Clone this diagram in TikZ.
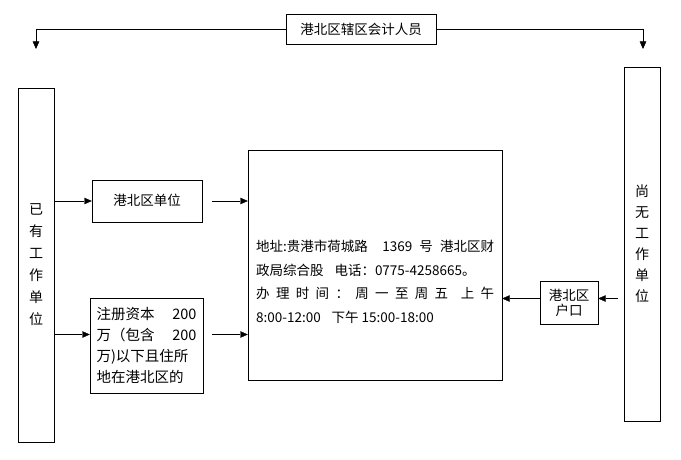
\documentclass[tikz,border=0pt]{standalone}
\usepackage{fontspec}
\setmainfont{Noto Sans CJK SC}
\usetikzlibrary{positioning,arrows.meta}
\tikzset{
  cnfont/.style={font=\fontsize{13.5}{21}\selectfont}
}

\begin{document}
\begin{tikzpicture}[
      x=1pt,y=-1pt,cnfont,
      box/.style={draw=black,thin,inner sep=2pt,align=center},
      tallbox/.style={box,minimum width=36pt,minimum height=354pt},
      arr/.style={-{Triangle[length=7.5pt,width=6.5pt]},thin,black}]
    \useasboundingbox (0,0) rectangle (681,460);
    % boxes
    \node[box,minimum width=150pt,minimum height=30pt] (acct) at (361,29) {港北区辖区会计人员};
    \node[tallbox,font=\fontsize{14}{22}\selectfont] (have) at (36,265) {已\\有\\工\\作\\单\\位};
    \node[tallbox,font=\fontsize{14}{21}\selectfont] (none) at (642,244) {尚\\无\\工\\作\\单\\位};
    \node[box,minimum width=110pt,minimum height=42pt] (unit) at (147,201) {\raisebox{3pt}{港北区单位}};
    \node[box,minimum width=113pt,minimum height=95pt,align=left,
          font=\fontsize{14.5}{21}\selectfont] (small) at (146.5,345.5)
      {\hbox to 100pt{注册资本\hfill 200}\\\hbox to 100pt{万（包含\hfill 200}\\万)以下且住所\\地在港北区的};
    \node[box,minimum width=254pt,minimum height=230pt] (info) at (375,265) {};
    \node[anchor=north west,inner sep=0pt,align=left,
          font=\fontsize{13.5}{23.5}\selectfont] (infotxt) at (256,240)
      {\hbox to 238pt{地址:贵港市荷城路\hfill\hfill 1369\hfill 号\hfill 港北区财}\\
       政局综合股\hspace{0.8em}电话：0775-4258665。\\
       \hbox to 238pt{办\hfill 理\hfill 时\hfill 间\hfill ：\hfill 周\hfill 一\hfill 至\hfill 周\hfill 五\hfill\hfill 上\hfill 午}\\
       8:00-12:00\hspace{0.8em}下午 15:00-18:00};
    \node[box,minimum width=58pt,minimum height=43pt,inner sep=1pt,
          font=\fontsize{13.5}{15}\selectfont] (huko) at (569,302.5) {港北区\\户口};
    % connectors
    \coordinate (ldrop) at (36,49);
    \coordinate (rdrop) at (643,49);
    \coordinate (sml) at ([yshift=11pt]small.west);
    \coordinate (hke) at ([yshift=4pt]huko.east);
    \coordinate (hkw) at ([yshift=4pt]huko.west);
    \draw[arr] (acct.west) -| (ldrop);
    \draw[arr] (acct.east) -| (rdrop);
    \draw[arr] (have.east |- unit) -- (unit.west);
    \draw[arr] ([xshift=10pt]unit.east) -- (info.west |- unit);
    \draw[arr] (have.east |- sml) -- (sml);
    \draw[arr] ([xshift=9pt]small.east |- sml) -- (info.west |- sml);
    \draw[arr] ([xshift=-6pt]none.west |- hke) -- (hke);
    \draw[arr] (hkw) -- (info.east |- hkw);
  \end{tikzpicture}
\end{document}
